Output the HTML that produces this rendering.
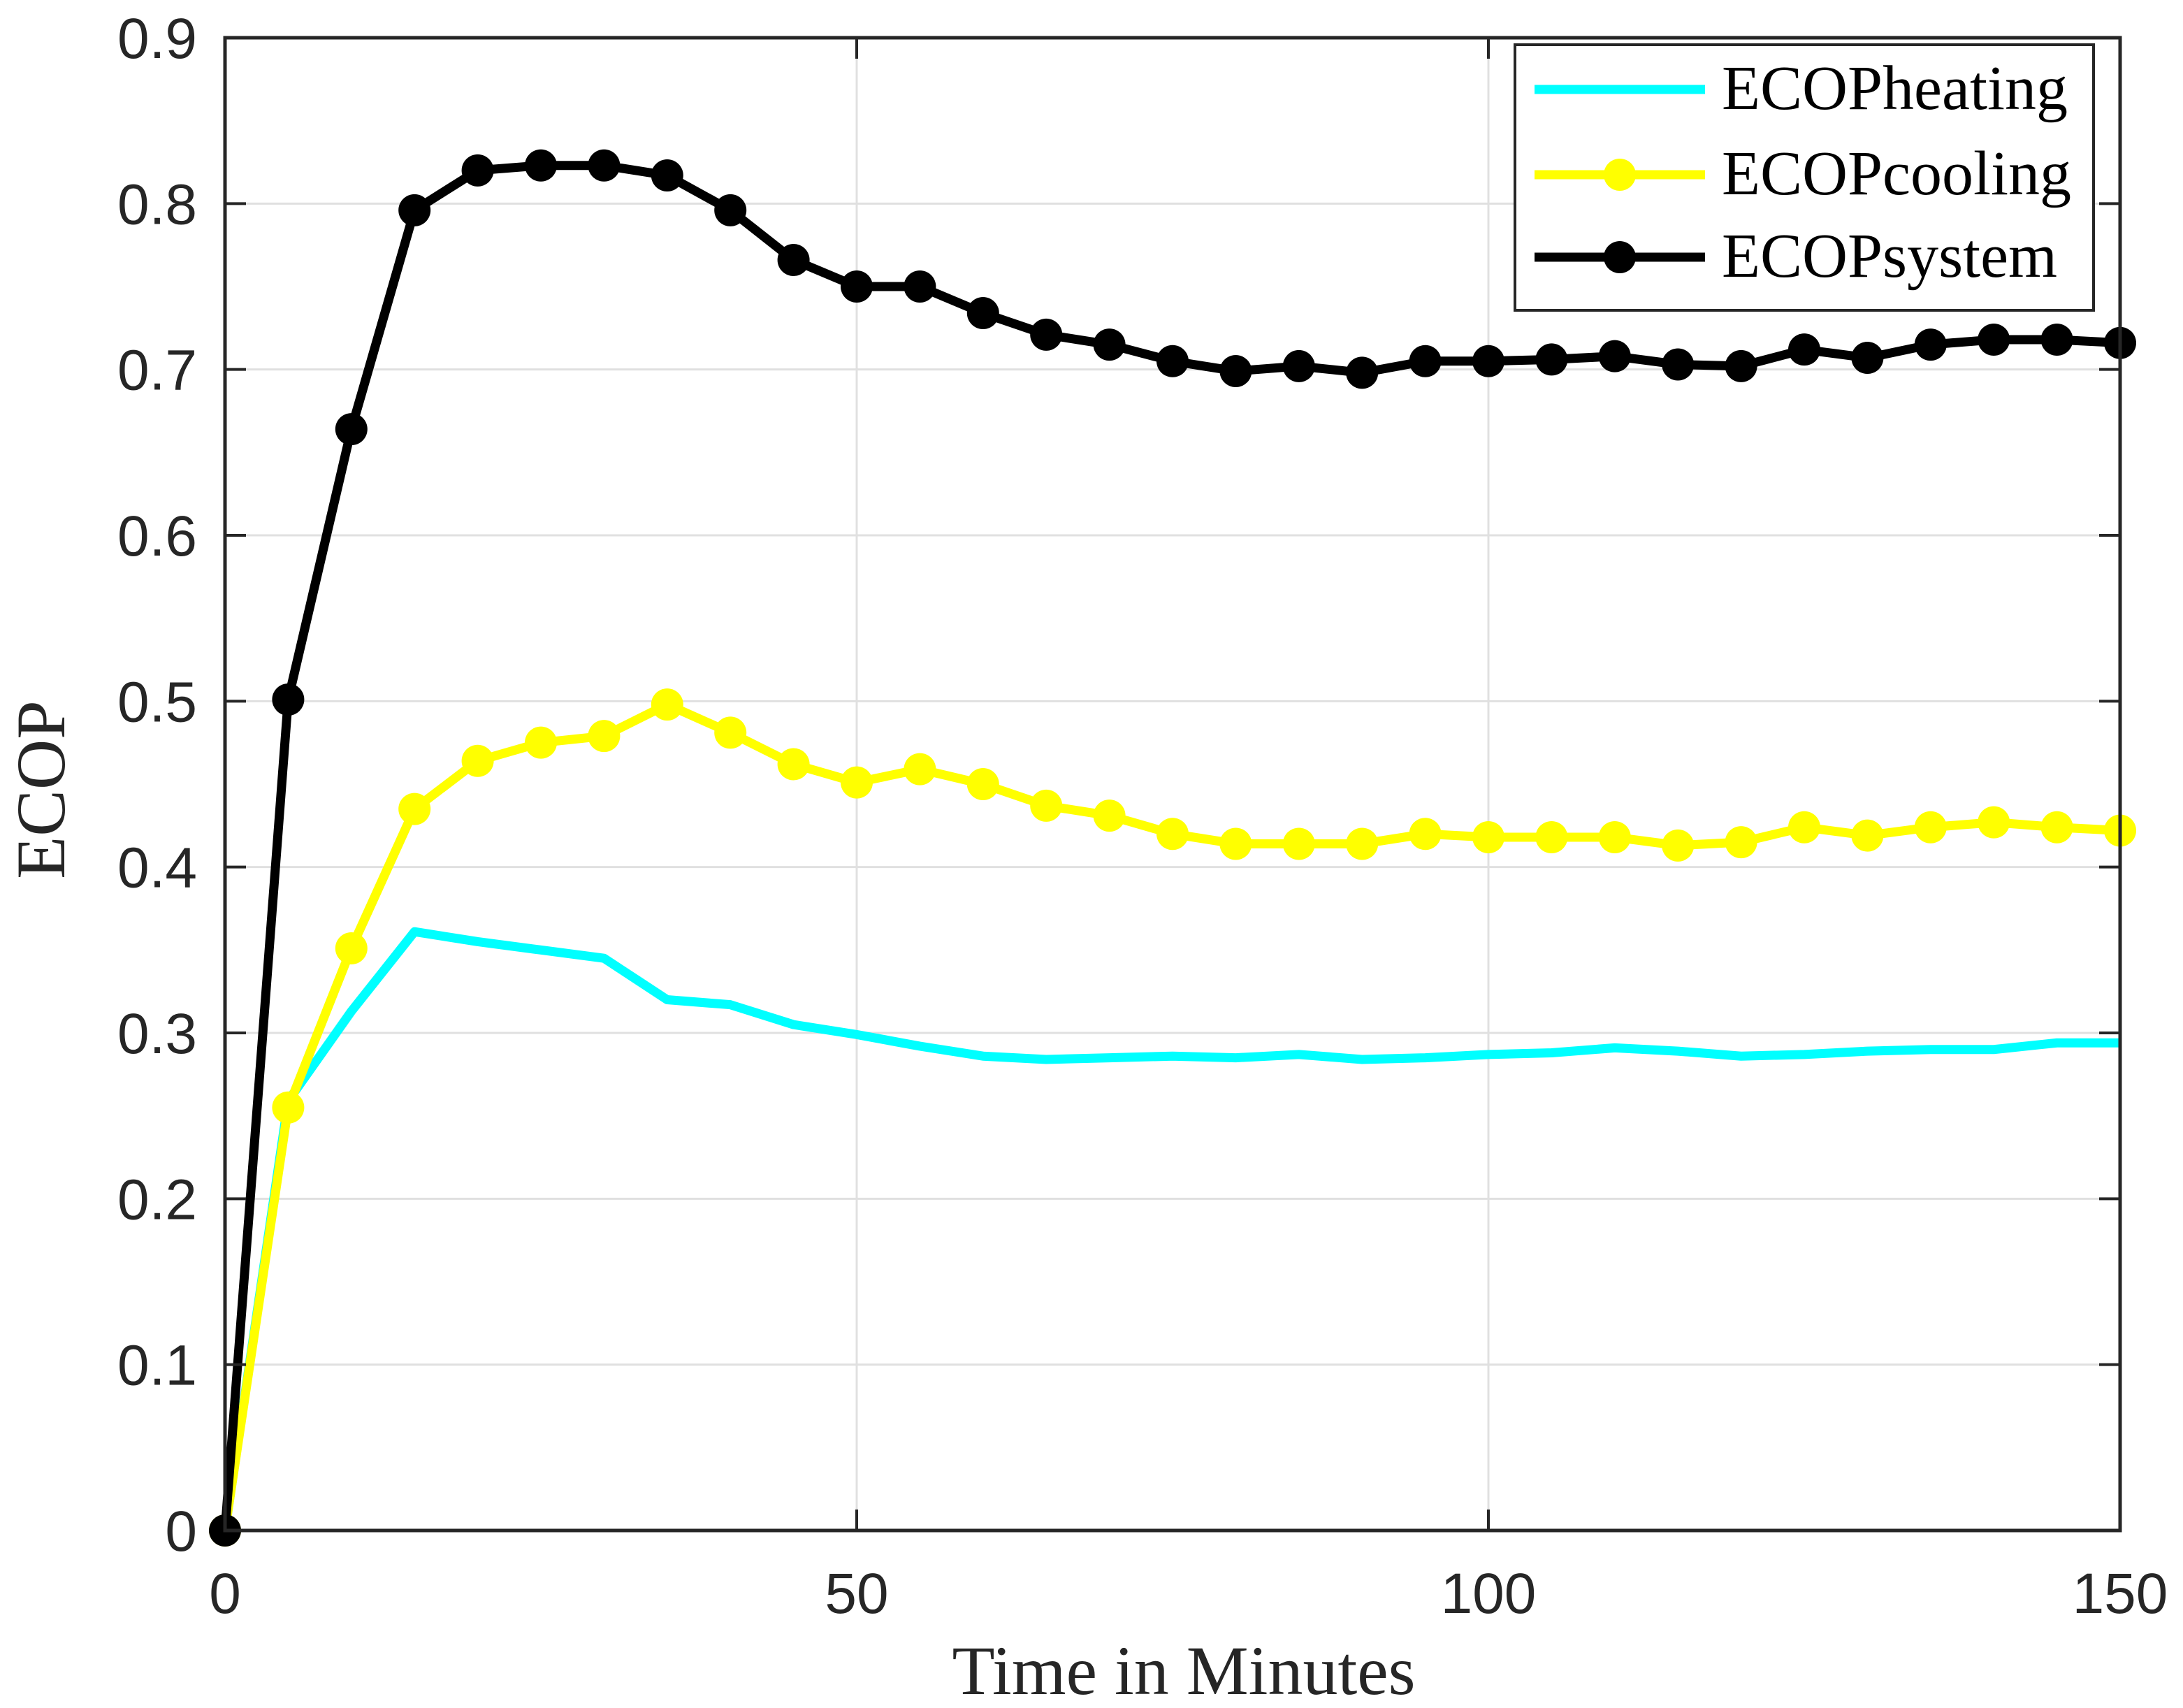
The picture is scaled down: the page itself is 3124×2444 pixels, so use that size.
<!DOCTYPE html>
<html><head><meta charset="utf-8"><style>html,body{margin:0;padding:0;background:#fff}svg{display:block}</style></head>
<body>
<svg id="chart" width="3124" height="2444" xmlns="http://www.w3.org/2000/svg">
<rect width="3124" height="2444" fill="#fff"/>
<g id="grid"></g><g id="series"></g><g id="axes"></g><g id="legend"></g>
</svg>
<script>
const times=[0,5,10,15,20,25,30,35,40,45,50,55,60,65,70,75,80,85,90,95,100,105,110,115,120,125,130,135,140,145,150];
const heating=[0,0.259,0.313,0.361,0.355,0.350,0.345,0.320,0.317,0.305,0.299,0.292,0.286,0.284,0.285,0.286,0.285,0.287,0.284,0.285,0.287,0.288,0.291,0.289,0.286,0.287,0.289,0.290,0.290,0.294,0.294];
const cooling=[0,0.255,0.351,0.435,0.464,0.475,0.479,0.498,0.481,0.462,0.451,0.459,0.450,0.437,0.431,0.420,0.414,0.414,0.414,0.420,0.418,0.418,0.418,0.413,0.415,0.424,0.419,0.424,0.427,0.424,0.422];
const system=[0,0.501,0.664,0.796,0.820,0.823,0.823,0.817,0.796,0.766,0.750,0.750,0.734,0.721,0.715,0.705,0.699,0.702,0.698,0.705,0.705,0.706,0.708,0.703,0.702,0.712,0.707,0.715,0.718,0.718,0.716];
const xTicks=[0,50,100,150];
const yTicks=[0,0.1,0.2,0.3,0.4,0.5,0.6,0.7,0.8,0.9];
const yTickLabels=["0","0.1","0.2","0.3","0.4","0.5","0.6","0.7","0.8","0.9"];
const legendLabels=["ECOPheating","ECOPcooling","ECOPsystem"];

const L=322,R=3034,T=54,B=2190;
const xS=v=>L+(v-0)/150*(R-L);
const yS=v=>B-(v-0)/0.9*(B-T);
const NS="http://www.w3.org/2000/svg";
function mk(tag,attrs,parent){const e=document.createElementNS(NS,tag);for(const k in attrs)e.setAttribute(k,attrs[k]);parent.appendChild(e);return e;}
const grid=document.getElementById('grid'),ser=document.getElementById('series'),axes=document.getElementById('axes'),leg=document.getElementById('legend');
const tf='"Liberation Sans", Arial, sans-serif', sf='"Liberation Serif", serif';

yTicks.forEach((v,i)=>{
  if(v>0&&v<0.9){const g=mk('line',{x1:L,x2:R,y1:yS(v),y2:yS(v),stroke:'#e0e0e0','stroke-width':3},grid);
  
  }
  const tk=mk('line',{x1:L,x2:L+30,y1:yS(v),y2:yS(v),stroke:'#262626','stroke-width':4},axes);
  
  
  const tk2=mk('line',{x1:R,x2:R-30,y1:yS(v),y2:yS(v),stroke:'#262626','stroke-width':4},axes);
  
  
  const t=mk('text',{x:L-40,y:yS(v)+29,'text-anchor':'end','font-family':tf,'font-size':82,fill:'#262626'},axes);
  t.textContent=yTickLabels[i];
  
  
});
xTicks.forEach(v=>{
  if(v>0&&v<150){const g=mk('line',{x1:xS(v),x2:xS(v),y1:T,y2:B,stroke:'#e0e0e0','stroke-width':3},grid);
  
  }
  const tk=mk('line',{x1:xS(v),x2:xS(v),y1:B,y2:B-30,stroke:'#262626','stroke-width':4},axes);
  
  
  const tk2=mk('line',{x1:xS(v),x2:xS(v),y1:T,y2:T+30,stroke:'#262626','stroke-width':4},axes);
  
  
  const t=mk('text',{x:xS(v),y:B+118,'text-anchor':'middle','font-family':tf,'font-size':82,fill:'#262626'},axes);
  t.textContent=String(v);
  
  
});
const box=mk('rect',{x:L,y:T,width:R-L,height:B-T,fill:'none',stroke:'#262626','stroke-width':5},axes);


const xl=mk('text',{x:1694,y:2424,'text-anchor':'middle','font-family':sf,'font-size':100,fill:'#262626'},axes);
xl.textContent='Time in Minutes';


const yl=mk('text',{x:0,y:0,transform:'translate(92,1130) rotate(-90)','text-anchor':'middle','font-family':sf,'font-size':100,fill:'#262626'},axes);
yl.textContent='ECOP';



function drawSeries(vals,color,markers,name){
  const pts=times.map((t,i)=>xS(t)+','+yS(vals[i])).join(' ');
  const pl=mk('polyline',{points:pts,fill:'none',stroke:color,'stroke-width':13,'stroke-linejoin':'round'},ser);
  
  
  if(markers){times.forEach((t,i)=>{
    const c=mk('circle',{cx:xS(t),cy:yS(vals[i]),r:23,fill:color},ser);
    
    
  });}
}
drawSeries(heating,'#00ffff',false,'heating');
drawSeries(cooling,'#ffff00',true,'cooling');
drawSeries(system,'#000000',true,'system');

const lb=mk('rect',{x:2168,y:64,width:828,height:380,fill:'#fff',stroke:'#262626','stroke-width':4},leg);


const lc=['#00ffff','#ffff00','#000000'],lm=[false,true,true],ly=[128,250,368];
legendLabels.forEach((lab,i)=>{
  const l=mk('line',{x1:2196,x2:2440,y1:ly[i],y2:ly[i],stroke:lc[i],'stroke-width':13},leg);
  
  
  if(lm[i]){const c=mk('circle',{cx:2318,cy:ly[i],r:23,fill:lc[i]},leg);
  
  }
  const t=mk('text',{x:2464,y:ly[i]+28,'font-family':sf,'font-size':90,fill:'#000'},leg);
  t.textContent=lab;
  
  
});
</script>
</body></html>
